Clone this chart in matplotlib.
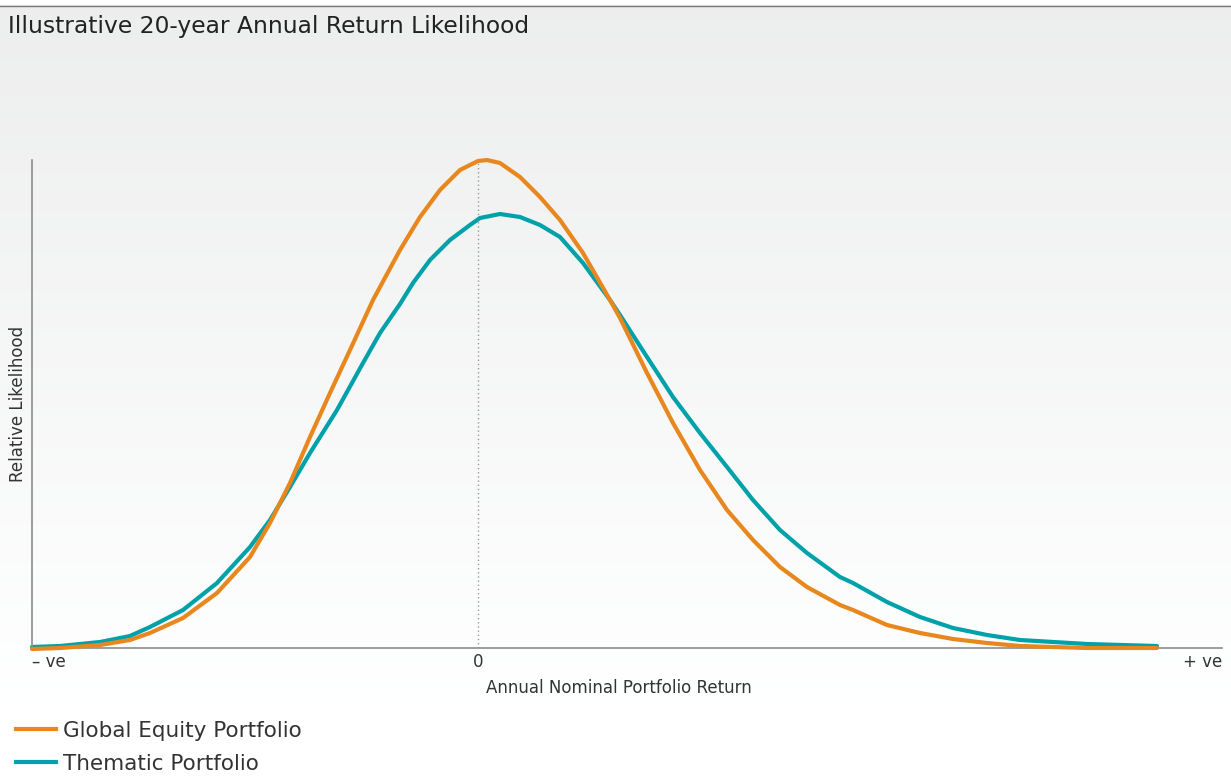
import numpy as np
import matplotlib
matplotlib.use("Agg")
import matplotlib.pyplot as plt
from matplotlib.lines import Line2D

# ---- data ----
title = "Illustrative 20-year Annual Return Likelihood"
xlabel = "Annual Nominal Portfolio Return"
ylabel = "Relative Likelihood"
tick_labels = ["\u2013 ve", "0", "+ ve"]
series_names = ["Global Equity Portfolio", "Thematic Portfolio"]
colors = ["#E8871E", "#00A1A9"]

global_x = [-446, -418, -378, -348, -328, -295, -261, -228, -208, -188, -168, -148, -128, -105,
            -78, -58, -38, -18, 0, 9, 22, 42, 62, 82, 105, 132, 142, 169, 195, 222, 249, 275,
            302, 329, 362, 375, 409, 442, 475, 509, 542, 609, 679]
global_y = [-1, 0, 3, 8, 15, 30, 55, 91, 125, 165, 211, 255, 298, 348,
            398, 431, 458, 478, 487, 488, 485, 471, 451, 428, 395, 348, 330, 275, 225, 178, 138, 108,
            81, 61, 43, 38, 23, 15, 9, 5, 2, 0, 0]

thematic_x = [-446, -418, -378, -348, -328, -295, -261, -228, -208, -188, -168, -141, -115, -98,
              -78, -65, -48, -28, -8, 2, 22, 42, 62, 82, 105, 132, 142, 169, 195, 222, 249, 275,
              302, 329, 362, 375, 409, 442, 475, 509, 542, 609, 679]
thematic_y = [1, 2, 6, 12, 21, 38, 65, 101, 128, 161, 195, 238, 285, 315,
              344, 365, 388, 408, 423, 430, 434, 431, 423, 411, 385, 348, 333, 291, 251, 215, 181, 148,
              118, 95, 71, 65, 46, 31, 20, 13, 8, 4, 2]

xlim = (-446, 744)
ylim = (0, 488)

# ---- figure ----
W, H = 1231, 778
fig = plt.figure(figsize=(W / 100, H / 100), dpi=100)
fig.patch.set_facecolor("white")

# background gradient
bg = fig.add_axes([0, 0, 1, 1], zorder=0)
top_px, end_px = 5, 700
vals = np.clip((np.arange(H) - top_px) / (end_px - top_px), 0, 1)
shade = 0.930 + (1.0 - 0.930) * vals
shade[:top_px] = 1.0
img = np.stack([shade, np.minimum(shade + 0.002, 1), np.minimum(shade + 0.004, 1)], axis=-1)
img = np.repeat(img[:, None, :], 4, axis=1)
bg.imshow(img, aspect="auto", extent=[0, 1, 0, 1], origin="upper")
bg.axhline(1 - 5.5 / H, color="#777777", lw=1.0)
bg.set_xlim(0, 1)
bg.set_ylim(0, 1)
bg.axis("off")

font = ["DejaVu Sans"]
txtcol = "#333333"

fig.text(8 / W, 1 - 27 / H, title, ha="left", va="center", fontsize=16.8,
         family=font, color="#222222")

left, right, bottom, top = 32, 1222, 648, 160
ax = fig.add_axes([left / W, 1 - bottom / H, (right - left) / W, (bottom - top) / H], zorder=1)
ax.patch.set_alpha(0)
ax.set_xlim(*xlim)
ax.set_ylim(*ylim)

ax.axvline(0, color="#999999", lw=1.0, ls=(0, (1, 2)), zorder=1)
ax.plot(global_x, global_y, color=colors[0], lw=3.0, solid_capstyle="round",
        solid_joinstyle="round", zorder=3, clip_on=False)
ax.plot(thematic_x, thematic_y, color=colors[1], lw=3.0, solid_capstyle="round",
        solid_joinstyle="round", zorder=2, clip_on=False)

for s in ["top", "right"]:
    ax.spines[s].set_visible(False)
for s in ["left", "bottom"]:
    ax.spines[s].set_color("#8c8c8c")
    ax.spines[s].set_linewidth(1.2)

ax.set_xticks([])
ax.set_yticks([])

fig.text(left / W, 1 - 662 / H, tick_labels[0], ha="left", va="center", fontsize=12, family=font, color=txtcol)
fig.text(478 / W, 1 - 662 / H, tick_labels[1], ha="center", va="center", fontsize=12, family=font, color=txtcol)
fig.text(right / W, 1 - 662 / H, tick_labels[2], ha="right", va="center", fontsize=12, family=font, color=txtcol)

fig.text(619 / W, 1 - 688 / H, xlabel, ha="center", va="center", fontsize=12, family=font, color=txtcol)
fig.text(18 / W, 1 - 404 / H, ylabel, ha="center", va="center", rotation=90, fontsize=12,
         family=font, color=txtcol)

# legend
handles = [Line2D([], [], color=c, lw=3.0) for c in colors]
leg = fig.legend(handles, series_names, loc="upper left", bbox_to_anchor=(16 / W, 1 - 721 / H),
                 frameon=False, prop={"family": font, "size": 15.5},
                 handlelength=1.86, handletextpad=0.33, labelspacing=0.6, borderaxespad=0, borderpad=0)
for t in leg.get_texts():
    t.set_color(txtcol)

fig.savefig("out.png", dpi=100, facecolor=fig.get_facecolor())
